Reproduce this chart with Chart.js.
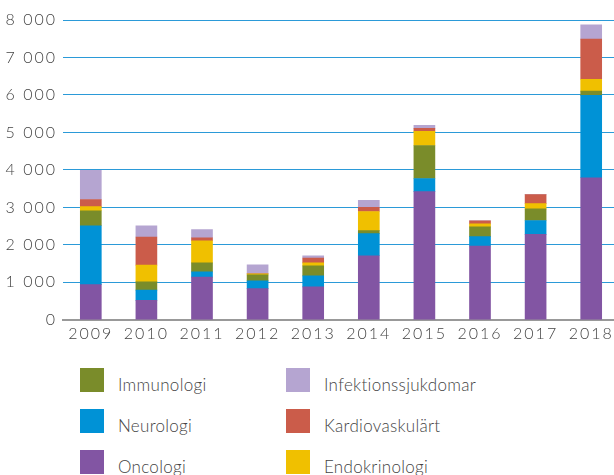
<!DOCTYPE html>
<html>
<head>
<meta charset="utf-8">
<script src="https://cdn.jsdelivr.net/npm/chart.js@4"></script>
<style>
  html, body { margin: 0; padding: 0; background: #fff; overflow: hidden; width: 614px; height: 475px; }
  #wrap { position: relative; width: 619px; height: 347px; }
  #legend { position: absolute; left: 80px; top: 368px; width: 460px; font-family: Lato, sans-serif; font-weight: 300; font-size: 17px; color: #444; letter-spacing: 0.3px; }
  .item { position: absolute; display: flex; align-items: center; }
  .box { width: 24px; height: 24px; margin-right: 14px; }
  .item span { position: relative; top: 4px; }
</style>
</head>
<body>
<div id="wrap"><canvas id="myChart"></canvas></div>
<div id="legend"></div>
<script>
var years = ['2009', '2010', '2011', '2012', '2013', '2014', '2015', '2016', '2017', '2018'];
var oncologi = [940, 520, 1140, 830, 880, 1710, 3420, 1970, 2280, 3790];
var neurologi = [1570, 270, 140, 210, 290, 590, 350, 250, 370, 2200];
var immunologi = [400, 220, 240, 160, 270, 80, 880, 260, 310, 110];
var endokrinologi = [110, 450, 590, 30, 80, 510, 380, 80, 140, 320];
var kardiovaskulart = [190, 750, 80, 0, 130, 110, 80, 80, 240, 1070];
var infektion = [780, 300, 220, 240, 60, 190, 80, 0, 0, 380];

var series = [
    { label: 'Oncologi', data: oncologi, color: '#8255a3' },
    { label: 'Neurologi', data: neurologi, color: '#0092d6' },
    { label: 'Immunologi', data: immunologi, color: '#7a8c2a' },
    { label: 'Endokrinologi', data: endokrinologi, color: '#f0c000' },
    { label: 'Kardiovaskulärt', data: kardiovaskulart, color: '#cb5c4a' },
    { label: 'Infektionssjukdomar', data: infektion, color: '#b5a5d1' }
];

// wide-looking tick text
var spacing = {
    id: 'spacing',
    beforeDraw: function (chart) { chart.ctx.letterSpacing = '2px'; }
};

var tickFont = { family: 'Lato', size: 16, weight: 300 };

var ctx = document.getElementById('myChart').getContext('2d');
var myChart = new Chart(ctx, {
    type: 'bar',
    data: {
        labels: years,
        datasets: series.map(function (s) {
            return {
                label: s.label,
                data: s.data,
                backgroundColor: s.color,
                barThickness: 21
            };
        })
    },
    plugins: [spacing],
    options: {
        responsive: true,
        maintainAspectRatio: false,
        animation: false,
        layout: { padding: { top: 20, left: 0, right: 0, bottom: 0 } },
        plugins: {
            legend: { display: false },
            tooltip: { enabled: false }
        },
        scales: {
            x: {
                stacked: true,
                grid: { display: false, drawTicks: false },
                border: { color: '#999', width: 2 },
                ticks: { color: '#444', font: tickFont, padding: 4 }
            },
            y: {
                stacked: true,
                min: 0,
                max: 8000,
                border: { display: false },
                afterFit: function (axis) { axis.width = 63; },
                grid: {
                    color: function (c) { return c.tick.value === 0 ? 'rgba(0,0,0,0)' : '#2b9ad8'; },
                    drawTicks: false
                },
                ticks: {
                    stepSize: 1000,
                    padding: 6,
                    color: '#444',
                    font: tickFont,
                    callback: function (v) { return v >= 1000 ? Math.floor(v / 1000) + ' 000' : String(v); }
                }
            }
        }
    }
});

// two-column legend
var order = ['Immunologi', 'Neurologi', 'Oncologi', 'Infektionssjukdomar', 'Kardiovaskulärt', 'Endokrinologi'];
var legend = document.getElementById('legend');
order.forEach(function (name, i) {
    var s = series.filter(function (d) { return d.label === name; })[0];
    var el = document.createElement('div');
    el.className = 'item';
    el.style.left = (i < 3 ? 0 : 206) + 'px';
    el.style.top = ((i % 3) * 41) + 'px';
    el.innerHTML = '<div class="box" style="background:' + s.color + '"></div><span>' + name + '</span>';
    legend.appendChild(el);
});
</script>
</body>
</html>
